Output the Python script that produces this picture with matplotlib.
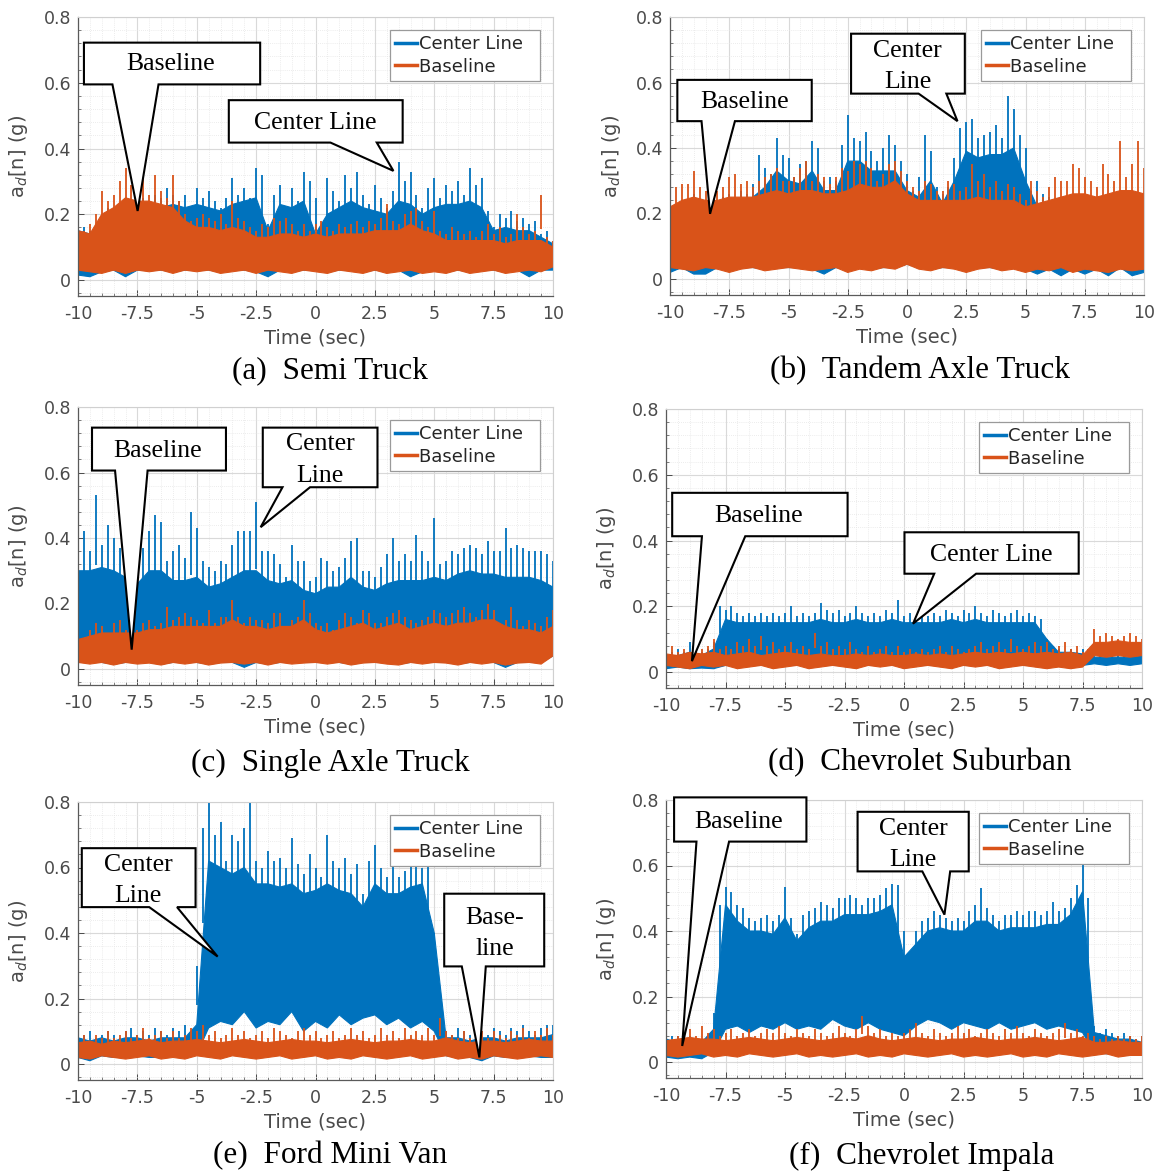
import numpy as np
import matplotlib
matplotlib.use("Agg")
import matplotlib.pyplot as plt
from matplotlib.patches import Polygon
from matplotlib.lines import Line2D
from matplotlib.ticker import MultipleLocator, FormatStrFormatter

plt.rcParams["axes.unicode_minus"] = False
plt.rcParams["font.family"] = ["DejaVu Sans"]

BLUE = "#0072BD"
ORANGE = "#D95319"
SERIES_NAMES = ["Center Line", "Baseline"]
X_TICKS = [-10, -7.5, -5, -2.5, 0, 2.5, 5, 7.5, 10]
Y_TICKS = [0, 0.2, 0.4, 0.6, 0.8]

# Per series, in g:
#   *_pk   : spike tips every 0.25 s (81 values)
#   *_top  : top of the dense signal band every 0.5 s (41 values)
#   *_lo   : bottom of the signal band every 0.5 s (41 values)

# (a) Semi Truck
semi_center_pk = [0.18,0.16,0.15,0.17,0.20,0.22,0.21,0.23,0.25,0.24,
                  0.22,0.25,0.23,0.26,0.25,0.28,0.26,0.24,0.26,0.22,
                  0.28,0.25,0.27,0.24,0.22,0.25,0.31,0.26,0.28,0.25,
                  0.34,0.32,0.17,0.26,0.29,0.22,0.28,0.24,0.33,0.30,
                  0.25,0.14,0.31,0.27,0.24,0.32,0.28,0.33,0.26,0.23,
                  0.29,0.25,0.22,0.27,0.36,0.30,0.33,0.26,0.22,0.28,
                  0.31,0.25,0.29,0.27,0.30,0.26,0.34,0.29,0.31,0.21,
                  0.16,0.20,0.19,0.21,0.18,0.19,0.17,0.18,0.14,0.15,
                  0.12]
semi_center_top = [0.15,0.14,0.17,0.19,0.21,0.21,0.21,0.22,0.23,0.22,
                   0.23,0.22,0.21,0.23,0.24,0.25,0.15,0.23,0.22,0.24,
                   0.14,0.20,0.22,0.24,0.22,0.21,0.20,0.24,0.23,0.20,
                   0.22,0.23,0.23,0.24,0.22,0.15,0.16,0.15,0.15,0.13,
                   0.11]
semi_center_lo = [0.015,0.01,0.025,0.03,0.01,0.03,0.03,0.03,0.025,0.03,
                  0.03,0.03,0.025,0.03,0.03,0.025,0.01,0.03,0.025,0.03,
                  0.03,0.025,0.03,0.03,0.025,0.03,0.025,0.03,0.01,0.025,
                  0.03,0.025,0.03,0.025,0.03,0.03,0.025,0.03,0.01,0.03,
                  0.03]
semi_base_pk = [0.19,0.15,0.17,0.20,0.27,0.24,0.26,0.30,0.34,0.29,
                0.27,0.31,0.26,0.32,0.27,0.25,0.32,0.24,0.20,0.18,
                0.19,0.20,0.19,0.18,0.20,0.17,0.24,0.19,0.18,0.16,
                0.15,0.17,0.16,0.19,0.18,0.19,0.17,0.15,0.17,0.15,
                0.17,0.18,0.16,0.15,0.17,0.16,0.17,0.18,0.16,0.18,
                0.17,0.19,0.23,0.18,0.17,0.20,0.21,0.22,0.18,0.16,
                0.21,0.15,0.14,0.16,0.15,0.14,0.15,0.13,0.15,0.17,
                0.14,0.16,0.13,0.14,0.20,0.16,0.14,0.15,0.26,0.13,
                0.12]
semi_base_top = [0.15,0.14,0.20,0.22,0.25,0.24,0.24,0.23,0.22,0.18,
                 0.16,0.16,0.15,0.16,0.15,0.13,0.13,0.14,0.14,0.13,
                 0.14,0.13,0.14,0.14,0.14,0.15,0.15,0.15,0.17,0.15,
                 0.14,0.12,0.12,0.12,0.12,0.12,0.11,0.12,0.12,0.12,
                 0.10]
semi_base_lo = [0.03,0.025,0.02,0.03,0.02,0.03,0.025,0.03,0.02,0.03,
                0.025,0.03,0.02,0.025,0.03,0.02,0.03,0.025,0.02,0.03,
                0.025,0.02,0.03,0.025,0.02,0.03,0.02,0.025,0.03,0.02,
                0.025,0.02,0.03,0.02,0.025,0.03,0.02,0.025,0.03,0.025,
                0.04]

# (b) Tandem Axle Truck
tandem_center_pk = [0.23,0.22,0.24,0.23,0.26,0.24,0.23,0.25,0.24,0.25,
                    0.26,0.25,0.27,0.26,0.29,0.38,0.34,0.32,0.43,0.38,
                    0.37,0.31,0.35,0.36,0.42,0.40,0.30,0.31,0.30,0.41,
                    0.50,0.43,0.42,0.45,0.39,0.36,0.40,0.44,0.41,0.36,
                    0.32,0.27,0.31,0.44,0.39,0.28,0.26,0.28,0.37,0.46,
                    0.48,0.49,0.43,0.44,0.45,0.47,0.43,0.56,0.52,0.44,
                    0.40,0.27,0.30,0.26,0.25,0.24,0.23,0.25,0.24,0.22,
                    0.23,0.24,0.22,0.23,0.24,0.22,0.23,0.22,0.21,0.20,
                    0.20]
tandem_center_top = [0.20,0.20,0.21,0.20,0.21,0.22,0.23,0.25,0.28,0.33,
                     0.30,0.29,0.33,0.27,0.27,0.36,0.36,0.33,0.33,0.33,
                     0.27,0.25,0.30,0.23,0.30,0.39,0.37,0.38,0.38,0.40,
                     0.30,0.22,0.21,0.21,0.21,0.20,0.21,0.20,0.20,0.20,
                     0.19]
tandem_center_lo = [0.02,0.035,0.015,0.015,0.035,0.03,0.035,0.035,0.03,0.035,
                    0.035,0.035,0.03,0.015,0.035,0.03,0.035,0.03,0.035,0.035,
                    0.045,0.035,0.03,0.035,0.035,0.03,0.035,0.035,0.03,0.035,
                    0.03,0.015,0.03,0.01,0.03,0.015,0.03,0.01,0.035,0.01,
                    0.02]
tandem_base_pk = [0.24,0.28,0.29,0.29,0.33,0.28,0.27,0.30,0.27,0.28,
                  0.31,0.32,0.29,0.30,0.28,0.30,0.31,0.32,0.34,0.30,
                  0.30,0.31,0.34,0.36,0.30,0.32,0.31,0.29,0.31,0.34,
                  0.33,0.36,0.35,0.36,0.34,0.30,0.32,0.35,0.36,0.33,
                  0.30,0.28,0.27,0.30,0.29,0.27,0.27,0.30,0.29,0.27,
                  0.28,0.35,0.30,0.32,0.28,0.30,0.27,0.29,0.28,0.26,
                  0.24,0.30,0.27,0.25,0.28,0.31,0.30,0.30,0.35,0.34,
                  0.31,0.30,0.28,0.35,0.32,0.30,0.42,0.31,0.35,0.42,
                  0.34]
tandem_base_top = [0.22,0.24,0.25,0.24,0.24,0.25,0.25,0.25,0.26,0.27,
                   0.26,0.27,0.27,0.26,0.26,0.27,0.29,0.28,0.28,0.30,
                   0.26,0.24,0.24,0.24,0.24,0.24,0.25,0.24,0.24,0.24,
                   0.22,0.23,0.24,0.25,0.26,0.26,0.25,0.26,0.27,0.27,
                   0.26]
tandem_base_lo = [0.035,0.03,0.025,0.035,0.03,0.02,0.03,0.035,0.025,0.03,
                  0.035,0.03,0.025,0.03,0.035,0.02,0.03,0.025,0.035,0.03,
                  0.045,0.03,0.025,0.035,0.03,0.02,0.03,0.035,0.025,0.03,
                  0.02,0.03,0.025,0.035,0.02,0.03,0.025,0.02,0.03,0.025,
                  0.03]

# (c) Single Axle Truck
single_center_pk = [0.38,0.42,0.36,0.53,0.38,0.44,0.40,0.37,0.34,0.30,
                    0.34,0.37,0.42,0.47,0.45,0.33,0.36,0.38,0.34,0.48,
                    0.43,0.33,0.31,0.30,0.33,0.32,0.38,0.42,0.42,0.42,
                    0.51,0.36,0.36,0.35,0.32,0.28,0.38,0.33,0.33,0.27,
                    0.28,0.34,0.33,0.30,0.31,0.34,0.39,0.40,0.30,0.30,
                    0.28,0.31,0.35,0.40,0.33,0.35,0.33,0.41,0.36,0.33,
                    0.46,0.32,0.33,0.36,0.35,0.37,0.38,0.37,0.35,0.39,
                    0.36,0.36,0.43,0.37,0.38,0.37,0.36,0.36,0.36,0.35,
                    0.33]
single_center_top = [0.30,0.30,0.31,0.30,0.28,0.26,0.30,0.30,0.27,0.27,
                     0.28,0.25,0.26,0.28,0.30,0.30,0.27,0.26,0.27,0.24,
                     0.23,0.25,0.25,0.28,0.25,0.24,0.26,0.27,0.27,0.27,
                     0.28,0.27,0.29,0.30,0.29,0.29,0.28,0.28,0.28,0.27,
                     0.25]
single_center_lo = [0.02,0.02,0.02,0.015,0.02,0.02,0.02,0.015,0.02,0.02,
                    0.02,0.015,0.02,0.02,0.005,0.02,0.015,0.02,0.02,0.02,
                    0.02,0.02,0.02,0.015,0.02,0.02,0.02,0.015,0.02,0.02,
                    0.02,0.02,0.015,0.02,0.02,0.02,0.005,0.02,0.02,0.02,
                    0.04]
single_base_pk = [0.11,0.09,0.12,0.14,0.13,0.11,0.14,0.15,0.12,0.13,
                  0.12,0.14,0.15,0.13,0.14,0.19,0.15,0.16,0.17,0.16,
                  0.15,0.14,0.18,0.14,0.16,0.16,0.21,0.16,0.14,0.16,
                  0.15,0.15,0.14,0.17,0.17,0.13,0.15,0.16,0.21,0.17,
                  0.14,0.13,0.14,0.12,0.15,0.17,0.16,0.14,0.18,0.17,
                  0.14,0.14,0.16,0.17,0.18,0.16,0.15,0.14,0.15,0.16,
                  0.18,0.17,0.16,0.17,0.18,0.19,0.17,0.16,0.18,0.20,
                  0.18,0.14,0.15,0.19,0.15,0.13,0.15,0.14,0.13,0.16,
                  0.18]
single_base_top = [0.09,0.10,0.11,0.11,0.11,0.11,0.12,0.12,0.13,0.13,
                   0.13,0.13,0.13,0.15,0.13,0.13,0.12,0.13,0.13,0.15,
                   0.12,0.11,0.12,0.13,0.14,0.12,0.13,0.14,0.12,0.13,
                   0.14,0.13,0.14,0.14,0.15,0.15,0.13,0.12,0.12,0.11,
                   0.13]
single_base_lo = [0.02,0.015,0.02,0.012,0.02,0.015,0.018,0.012,0.02,0.015,
                  0.02,0.012,0.018,0.02,0.015,0.02,0.012,0.02,0.015,0.018,
                  0.02,0.015,0.02,0.012,0.018,0.02,0.015,0.012,0.02,0.015,
                  0.02,0.018,0.012,0.02,0.015,0.02,0.012,0.018,0.02,0.015,
                  0.04]

# (d) Chevrolet Suburban
suburban_center_pk = [0.08,0.06,0.07,0.06,0.09,0.07,0.06,0.07,0.09,0.20,
                      0.19,0.20,0.18,0.17,0.18,0.17,0.18,0.17,0.18,0.17,
                      0.18,0.20,0.17,0.18,0.17,0.18,0.21,0.19,0.18,0.19,
                      0.17,0.18,0.20,0.18,0.17,0.18,0.17,0.19,0.18,0.22,
                      0.17,0.18,0.17,0.19,0.17,0.18,0.17,0.19,0.18,0.17,
                      0.19,0.18,0.20,0.18,0.17,0.19,0.18,0.17,0.18,0.19,
                      0.17,0.18,0.17,0.16,0.10,0.08,0.07,0.06,0.07,0.06,
                      0.07,0.06,0.05,0.055,0.05,0.06,0.055,0.05,0.06,0.055,
                      0.06]
suburban_center_top = [0.05,0.05,0.06,0.05,0.07,0.16,0.15,0.15,0.15,0.15,
                       0.15,0.15,0.15,0.16,0.15,0.15,0.16,0.15,0.15,0.16,
                       0.15,0.15,0.15,0.15,0.16,0.15,0.16,0.15,0.15,0.15,
                       0.15,0.15,0.10,0.06,0.06,0.055,0.045,0.045,0.045,0.045,
                       0.05]
suburban_center_lo = [0.01,0.015,0.01,0.012,0.01,0.02,0.02,0.02,0.02,0.02,
                      0.02,0.02,0.02,0.02,0.02,0.02,0.02,0.02,0.02,0.02,
                      0.02,0.02,0.02,0.02,0.02,0.02,0.02,0.02,0.02,0.02,
                      0.02,0.02,0.02,0.02,0.02,0.02,0.025,0.02,0.025,0.02,
                      0.025]
suburban_base_pk = [0.07,0.08,0.06,0.07,0.06,0.09,0.07,0.08,0.10,0.07,
                    0.08,0.07,0.09,0.08,0.10,0.08,0.11,0.08,0.09,0.07,
                    0.08,0.09,0.07,0.08,0.07,0.12,0.08,0.09,0.07,0.08,
                    0.07,0.09,0.07,0.06,0.08,0.06,0.07,0.08,0.06,0.08,
                    0.06,0.07,0.06,0.07,0.06,0.07,0.08,0.06,0.08,0.07,
                    0.06,0.07,0.08,0.09,0.07,0.08,0.09,0.07,0.10,0.08,
                    0.07,0.08,0.09,0.08,0.09,0.07,0.08,0.09,0.07,0.08,
                    0.06,0.07,0.13,0.11,0.12,0.11,0.10,0.11,0.12,0.11,
                    0.10]
suburban_base_top = [0.055,0.05,0.06,0.055,0.06,0.05,0.055,0.06,0.05,0.055,
                     0.06,0.055,0.05,0.055,0.05,0.05,0.055,0.05,0.055,0.05,
                     0.05,0.055,0.05,0.055,0.05,0.055,0.06,0.055,0.06,0.055,
                     0.06,0.055,0.06,0.055,0.06,0.05,0.09,0.09,0.095,0.09,
                     0.09]
suburban_base_lo = [0.02,0.015,0.01,0.02,0.015,0.02,0.01,0.015,0.02,0.01,
                    0.015,0.02,0.01,0.015,0.02,0.015,0.01,0.02,0.015,0.02,
                    0.01,0.015,0.02,0.015,0.01,0.02,0.015,0.02,0.01,0.015,
                    0.02,0.015,0.01,0.015,0.01,0.015,0.05,0.045,0.05,0.045,
                    0.05]

# (e) Ford Mini Van
minivan_center_pk = [0.12,0.09,0.10,0.08,0.09,0.10,0.09,0.08,0.10,0.11,
                     0.09,0.10,0.09,0.11,0.10,0.09,0.11,0.10,0.12,0.10,
                     0.30,0.72,0.80,0.70,0.74,0.62,0.70,0.68,0.72,0.80,
                     0.62,0.60,0.65,0.62,0.63,0.60,0.69,0.61,0.58,0.64,
                     0.60,0.57,0.70,0.62,0.60,0.63,0.58,0.61,0.52,0.62,
                     0.67,0.60,0.57,0.61,0.57,0.59,0.61,0.63,0.60,0.62,
                     0.40,0.13,0.10,0.09,0.11,0.10,0.09,0.11,0.10,0.09,
                     0.11,0.10,0.09,0.11,0.10,0.12,0.10,0.09,0.11,0.12,
                     0.12]
minivan_center_top = [0.08,0.07,0.08,0.07,0.08,0.08,0.07,0.08,0.08,0.08,
                      0.12,0.62,0.60,0.58,0.60,0.55,0.55,0.54,0.55,0.52,
                      0.53,0.55,0.53,0.52,0.48,0.55,0.52,0.52,0.54,0.55,
                      0.40,0.08,0.08,0.07,0.08,0.08,0.07,0.08,0.08,0.08,
                      0.09]
minivan_center_lo = [0.02,0.01,0.025,0.02,0.02,0.025,0.02,0.02,0.025,0.02,
                     0.03,0.11,0.13,0.12,0.16,0.11,0.13,0.12,0.16,0.10,
                     0.13,0.11,0.15,0.12,0.14,0.15,0.12,0.14,0.11,0.13,
                     0.10,0.025,0.02,0.02,0.01,0.025,0.02,0.02,0.025,0.02,
                     0.02]
minivan_base_pk = [0.08,0.09,0.07,0.09,0.08,0.10,0.08,0.09,0.10,0.08,
                   0.09,0.11,0.08,0.09,0.10,0.08,0.10,0.08,0.09,0.11,
                   0.10,0.12,0.09,0.10,0.08,0.09,0.11,0.09,0.10,0.08,
                   0.09,0.10,0.08,0.11,0.10,0.09,0.08,0.10,0.11,0.09,
                   0.10,0.08,0.09,0.10,0.08,0.09,0.11,0.09,0.10,0.08,
                   0.09,0.11,0.09,0.10,0.08,0.11,0.09,0.10,0.09,0.11,
                   0.09,0.14,0.10,0.09,0.08,0.10,0.08,0.09,0.10,0.08,
                   0.10,0.09,0.08,0.10,0.09,0.11,0.08,0.10,0.09,0.11,
                   0.09]
minivan_base_top = [0.065,0.07,0.06,0.07,0.065,0.07,0.075,0.065,0.07,0.07,
                    0.075,0.07,0.065,0.07,0.075,0.07,0.065,0.07,0.075,0.07,
                    0.07,0.065,0.07,0.075,0.07,0.065,0.07,0.07,0.075,0.07,
                    0.07,0.08,0.07,0.065,0.07,0.07,0.065,0.07,0.075,0.07,
                    0.07]
minivan_base_lo = [0.02,0.015,0.025,0.02,0.015,0.02,0.025,0.015,0.02,0.015,
                   0.025,0.02,0.015,0.025,0.02,0.015,0.02,0.025,0.015,0.02,
                   0.025,0.015,0.02,0.015,0.025,0.02,0.015,0.02,0.025,0.015,
                   0.02,0.025,0.015,0.02,0.015,0.025,0.02,0.015,0.02,0.025,
                   0.02]

# (f) Chevrolet Impala
impala_center_pk = [0.09,0.08,0.08,0.07,0.08,0.06,0.07,0.08,0.15,0.48,
                    0.535,0.52,0.48,0.47,0.44,0.43,0.44,0.45,0.43,0.45,
                    0.535,0.44,0.39,0.45,0.46,0.47,0.49,0.48,0.47,0.50,
                    0.50,0.51,0.50,0.48,0.50,0.50,0.51,0.53,0.545,0.54,
                    0.40,0.30,0.40,0.43,0.44,0.46,0.45,0.44,0.43,0.44,
                    0.43,0.46,0.48,0.53,0.47,0.45,0.43,0.45,0.45,0.46,
                    0.45,0.46,0.46,0.45,0.46,0.49,0.46,0.47,0.50,0.54,
                    0.61,0.50,0.11,0.09,0.10,0.09,0.08,0.09,0.08,0.07,
                    0.08]
impala_center_top = [0.07,0.06,0.06,0.06,0.10,0.48,0.43,0.40,0.40,0.39,
                     0.44,0.37,0.41,0.43,0.43,0.45,0.45,0.45,0.46,0.48,
                     0.32,0.36,0.40,0.41,0.40,0.40,0.43,0.43,0.40,0.41,
                     0.41,0.41,0.42,0.42,0.45,0.52,0.09,0.08,0.07,0.07,
                     0.06]
impala_center_lo = [0.015,0.01,0.015,0.01,0.03,0.10,0.11,0.09,0.11,0.10,
                    0.12,0.10,0.11,0.10,0.13,0.11,0.10,0.12,0.10,0.09,
                    0.08,0.11,0.13,0.12,0.10,0.12,0.11,0.10,0.12,0.10,
                    0.11,0.12,0.10,0.11,0.10,0.09,0.03,0.025,0.025,0.02,
                    0.025]
impala_base_pk = [0.08,0.07,0.08,0.09,0.10,0.08,0.11,0.09,0.10,0.08,
                  0.09,0.10,0.08,0.09,0.10,0.08,0.09,0.10,0.09,0.11,
                  0.09,0.08,0.10,0.09,0.08,0.10,0.09,0.08,0.09,0.11,
                  0.09,0.08,0.10,0.14,0.11,0.09,0.10,0.08,0.09,0.08,
                  0.09,0.10,0.12,0.09,0.08,0.10,0.09,0.08,0.09,0.11,
                  0.09,0.10,0.08,0.09,0.10,0.09,0.08,0.10,0.09,0.11,
                  0.09,0.08,0.10,0.09,0.08,0.09,0.10,0.12,0.09,0.10,
                  0.08,0.09,0.08,0.07,0.08,0.07,0.08,0.07,0.08,0.07,
                  0.08]
impala_base_top = [0.065,0.07,0.075,0.07,0.07,0.065,0.07,0.075,0.07,0.065,
                   0.07,0.075,0.07,0.065,0.07,0.075,0.07,0.08,0.07,0.065,
                   0.07,0.075,0.07,0.065,0.07,0.07,0.075,0.07,0.065,0.07,
                   0.07,0.075,0.07,0.065,0.07,0.075,0.06,0.06,0.065,0.06,
                   0.06]
impala_base_lo = [0.02,0.015,0.02,0.025,0.015,0.02,0.015,0.025,0.02,0.015,
                  0.02,0.025,0.015,0.02,0.015,0.02,0.025,0.015,0.02,0.015,
                  0.025,0.02,0.015,0.02,0.025,0.015,0.02,0.015,0.02,0.025,
                  0.015,0.02,0.015,0.025,0.02,0.015,0.02,0.025,0.015,0.02,
                  0.02]

W, H = 1167, 1171

# Each panel: axes box in pixels (left, right, y at 0.8, y at 0), caption and callouts.
# Callout: (box x0, x1, y_bottom, y_top), pointer base x pair, tip (x, y), text, text centre.
panels = [
    dict(rect=(78, 553, 17, 280), caption="(a)  Semi Truck", cap_xy=(330, 371),
         center=(semi_center_pk, semi_center_top, semi_center_lo),
         base=(semi_base_pk, semi_base_top, semi_base_lo),
         callouts=[((-9.75, -2.33, 0.595, 0.722), (-8.55, -6.61), (-7.49, 0.21), "Baseline", (-6.1, 0.656)),
                   ((-3.65, 3.67, 0.418, 0.547), (0.63, 2.58), (3.28, 0.332), "Center Line", (0.01, 0.479))]),
    dict(rect=(670, 1144, 17, 279), caption="(b)  Tandem Axle Truck", cap_xy=(920, 371),
         center=(tandem_center_pk, tandem_center_top, tandem_center_lo),
         base=(tandem_base_pk, tandem_base_top, tandem_base_lo),
         callouts=[((-9.69, -4.02, 0.482, 0.608), (-8.67, -7.26), (-8.31, 0.199), "Baseline", (-6.87, 0.54)),
                   ((-2.36, 2.44, 0.566, 0.749), (0.49, 1.66), (2.13, 0.482), "Center\nLine", (0.02, 0.648))]),
    dict(rect=(78, 553, 407, 669), caption="(c)  Single Axle Truck", cap_xy=(330, 763),
         center=(single_center_pk, single_center_top, single_center_lo),
         base=(single_base_pk, single_base_top, single_base_lo),
         callouts=[((-9.41, -3.77, 0.606, 0.737), (-8.44, -7.07), (-7.74, 0.059), "Baseline", (-6.65, 0.666)),
                   ((-2.22, 2.61, 0.555, 0.737), (-1.39, -0.23), (-2.31, 0.433), "Center\nLine", (0.19, 0.638))]),
    dict(rect=(666, 1142, 409, 672), caption="(d)  Chevrolet Suburban", cap_xy=(920, 763),
         center=(suburban_center_pk, suburban_center_top, suburban_center_lo),
         base=(suburban_base_pk, suburban_base_top, suburban_base_lo),
         callouts=[((-9.74, -2.37, 0.413, 0.545), (-8.49, -6.67), (-8.91, 0.033), "Baseline", (-6.1, 0.476)),
                   ((0.02, 7.34, 0.299, 0.425), (1.27, 3.03), (0.38, 0.147), "Center Line", (3.68, 0.357))]),
    dict(rect=(78, 553, 802, 1064), caption="(e)  Ford Mini Van", cap_xy=(330, 1156),
         center=(minivan_center_pk, minivan_center_top, minivan_center_lo),
         base=(minivan_base_pk, minivan_base_top, minivan_base_lo),
         callouts=[((-9.84, -5.05, 0.479, 0.659), (-7.0, -5.83), (-4.12, 0.328), "Center\nLine", (-7.46, 0.560)),
                   ((5.42, 9.63, 0.298, 0.52), (6.16, 7.17), (6.9, 0.02), "Base-\nline", (7.53, 0.398))]),
    dict(rect=(666, 1142, 800, 1062), caption="(f)  Chevrolet Impala", cap_xy=(922, 1156),
         center=(impala_center_pk, impala_center_top, impala_center_lo),
         base=(impala_base_pk, impala_base_top, impala_base_lo),
         callouts=[((-9.66, -4.10, 0.673, 0.808), (-8.72, -7.35), (-9.32, 0.049), "Baseline", (-6.93, 0.734)),
                   ((-1.95, 2.72, 0.582, 0.764), (0.77, 1.94), (1.70, 0.45), "Center\nLine", (0.38, 0.665))]),
]

Y_MIN, Y_MAX = -0.05, 0.8
TICK_GREY = "#4a4a4a"
SERIF = ["Liberation Serif", "DejaVu Serif"]

fig = plt.figure(figsize=(W / 100, H / 100), dpi=100)


def draw_signal(ax, peaks, top, lo, color):
    """Dense acceleration trace: filled band plus the spikes that rise out of it."""
    t_top = np.linspace(-10, 10, len(top))
    t_lo = np.linspace(-10, 10, len(lo))
    xs = np.concatenate([t_top, t_lo[::-1]])
    ys = np.concatenate([np.asarray(top), np.asarray(lo)[::-1]])
    ax.fill(xs, ys, color=color, lw=0.8, zorder=2)
    pk = np.asarray(peaks)
    t_pk = np.linspace(-10, 10, len(pk))
    ax.vlines(t_pk, 0.6 * pk, pk, color=color, lw=1.3, zorder=2)


def draw_callout(ax, box, base_x, tip, text, text_xy):
    x0, x1, yb, yt = box
    verts = [(x0, yt), (x1, yt), (x1, yb), (base_x[1], yb), tip, (base_x[0], yb), (x0, yb)]
    ax.add_patch(Polygon(verts, closed=True, facecolor="white", edgecolor="black",
                         lw=1.5, zorder=6, clip_on=False, joinstyle="miter"))
    ax.text(text_xy[0], text_xy[1], text, ha="center", va="center", family=SERIF,
            fontsize=18.5, zorder=7, linespacing=1.55)


for p in panels:
    left, right, y08, y0 = p["rect"]
    px_per_unit = (y0 - y08) / 0.8
    bottom_px = y0 - Y_MIN * px_per_unit
    ax = fig.add_axes([left / W, 1 - bottom_px / H, (right - left) / W, (bottom_px - y08) / H])

    draw_signal(ax, *p["center"], BLUE)
    draw_signal(ax, *p["base"], ORANGE)

    ax.set_xlim(-10, 10)
    ax.set_ylim(Y_MIN, Y_MAX)
    ax.set_xticks(X_TICKS)
    ax.set_yticks(Y_TICKS)
    ax.xaxis.set_major_formatter(FormatStrFormatter("%g"))
    ax.yaxis.set_major_formatter(FormatStrFormatter("%g"))
    ax.xaxis.set_minor_locator(MultipleLocator(0.5))
    ax.yaxis.set_minor_locator(MultipleLocator(0.04))
    ax.set_axisbelow(True)
    ax.grid(which="major", color="#d9d9d9", lw=0.8)
    ax.grid(which="minor", color="#e6e6e6", lw=0.6, ls=(0, (1, 1.5)))
    ax.tick_params(which="major", direction="in", length=4, width=0.7, colors=TICK_GREY,
                   labelsize=12.5, top=False, right=False)
    ax.tick_params(which="minor", direction="in", length=2, width=0.5, colors=TICK_GREY,
                   top=False, right=False)
    ax.tick_params(axis="x", pad=6)
    ax.tick_params(axis="y", pad=5)
    for side in ("left", "bottom"):
        ax.spines[side].set_color("#5a5a5a")
        ax.spines[side].set_linewidth(0.9)
    for side in ("top", "right"):
        ax.spines[side].set_color("#d0d0d0")
        ax.spines[side].set_linewidth(0.8)

    ax.set_xlabel("Time (sec)", fontsize=14, color=TICK_GREY, labelpad=4)
    ax.set_ylabel("a$_d$[n] (g)", fontsize=14, color=TICK_GREY)
    ax.yaxis.set_label_coords(-0.100, 0.5)

    handles = [Line2D([], [], color=BLUE, lw=2.5), Line2D([], [], color=ORANGE, lw=2.5)]
    leg = ax.legend(handles, [s + "  " for s in SERIES_NAMES], loc="upper right", fontsize=13,
                    handlelength=1.2, handletextpad=0.15, borderpad=0.3, labelspacing=0.25,
                    fancybox=False, framealpha=1, edgecolor="#9a9a9a", borderaxespad=0.7)
    leg.get_frame().set_linewidth(0.9)
    leg.set_zorder(8)
    for txt in leg.get_texts():
        txt.set_color("#262626")

    for c in p["callouts"]:
        draw_callout(ax, *c)

    fig.text(p["cap_xy"][0] / W, 1 - p["cap_xy"][1] / H, p["caption"], family=SERIF,
             fontsize=22.5, ha="center", va="center")

fig.savefig("out.png", dpi=100)
